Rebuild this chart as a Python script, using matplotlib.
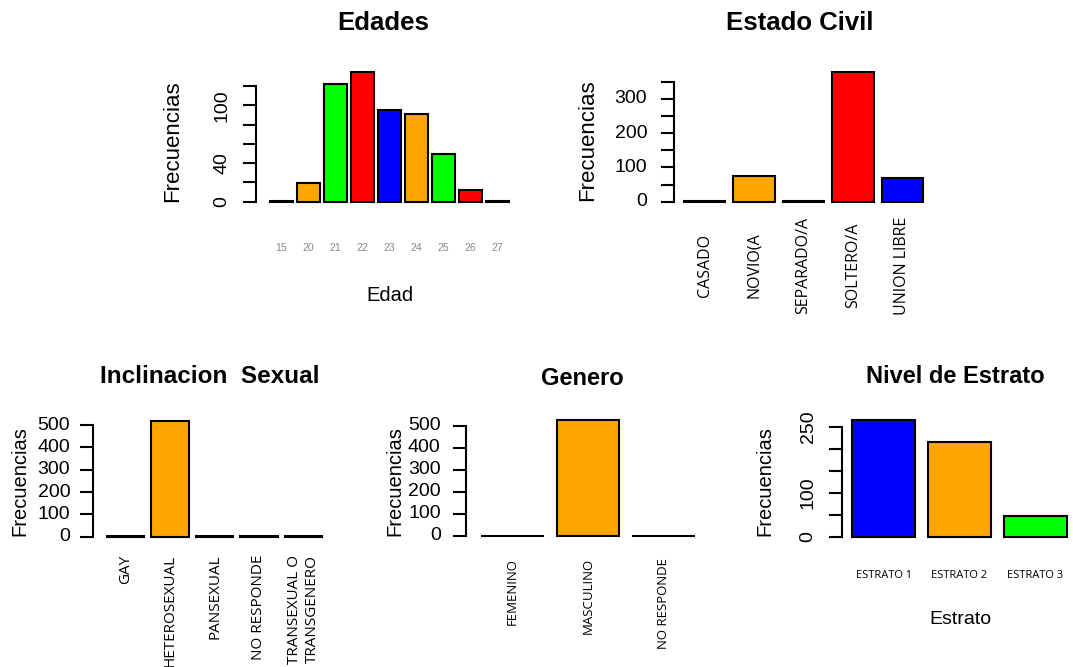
import matplotlib
matplotlib.use('Agg')
import matplotlib.pyplot as plt

# data
edad_cats = ['15', '20', '21', '22', '23', '24', '25', '26', '27']
edad_vals = [1, 19, 122, 135, 95, 91, 50, 12, 1]

civil_cats = ['CASADO', 'NOVIO(A', 'SEPARADO/A', 'SOLTERO/A', 'UNION LIBRE']
civil_vals = [1, 76, 1, 379, 69]

incl_cats = ['GAY', 'HETEROSEXUAL', 'PANSEXUAL', 'NO RESPONDE', 'TRANSEXUAL O\nTRANSGENERO']
incl_vals = [1, 520, 1, 4, 1]

genero_cats = ['FEMENINO', 'MASCULINO', 'NO RESPONDE']
genero_vals = [1, 527, 1]

estrato_cats = ['ESTRATO 1', 'ESTRATO 2', 'ESTRATO 3']
estrato_vals = [265, 216, 47]

palette = ['#0000FF', '#FFA500', '#00FF00', '#FF0000']

W, H = 1073, 667
fig = plt.figure(figsize=(W / 100, H / 100), dpi=100)
plt.rcParams['font.family'] = ['Liberation Sans', 'DejaVu Sans']
cat_font = ['Open Sans', 'DejaVu Sans']


def fig_text(x, y, s, **kw):
	''' text placed at pixel position'''
	fig.text(x / W, 1 - y / H, s, **kw)


def make_panel(vals, left, right, zero_y, ppu, ymax, spine_off, ticks, ticklabels,
		tick_rot, tick_pad):
	''' one R style barplot'''
	ax = fig.add_axes([left / W, 1 - zero_y / H, (right - left) / W, ppu * ymax / H])
	n = len(vals)
	xs = [0.7 + 1.2 * i for i in range(n)]
	cols = [palette[i % 4] for i in range(n)]
	ax.bar(xs, vals, width=1, color=cols, edgecolor='black', linewidth=1.5, clip_on=False)
	ax.set_xlim(0.2, 1.2 * n)
	ax.set_ylim(0, ymax)
	for s in ['top', 'right', 'bottom']:
		ax.spines[s].set_visible(False)
	ax.spines['left'].set_position(('outward', spine_off))
	ax.spines['left'].set_linewidth(1.5)
	ax.spines['left'].set_bounds(0, ticks[-1])
	ax.set_xticks([])
	ax.set_yticks(ticks)
	ax.set_yticklabels(ticklabels, rotation=tick_rot, va='center')
	ax.tick_params(axis='y', length=9.5, width=1.5, pad=tick_pad, labelsize=14)
	ax.patch.set_visible(False)
	return ax, xs


# Edades
ax, xs = make_panel(edad_vals, 270, 509, 201.7, 0.964, 140, 10,
	[0, 20, 40, 60, 80, 100, 120], ['0', '', '40', '', '', '100', ''], 90, 9)
for x, c in zip(xs, edad_cats):
	ax.annotate(c, (x, 0), xytext=(0, -33), textcoords='offset points',
		ha='center', va='center', fontsize=7.5, color='#888888', annotation_clip=False)
fig_text(383, 23, 'Edades', ha='center', va='center', fontsize=18.5, fontweight='bold')
fig_text(173, 141, 'Frecuencias', ha='center', va='center', rotation=90, fontsize=16)
fig_text(390, 295, 'Edad', ha='center', va='center', fontsize=14.5)

# Estado Civil
ax, xs = make_panel(civil_vals, 684, 923, 201.7, 0.343, 400, 7,
	[0, 50, 100, 150, 200, 250, 300, 350], ['0', '', '100', '', '200', '', '300', ''], 0, 10)
for x, c in zip(xs, civil_cats):
	ax.annotate(c, (x, 0), xytext=(0, -46), textcoords='offset points', rotation=90,
		ha='center', va='center', fontsize=11.5, family=cat_font, annotation_clip=False)
fig_text(800, 23, 'Estado Civil', ha='center', va='center', fontsize=18.5, fontweight='bold')
fig_text(588, 140, 'Frecuencias', ha='center', va='center', rotation=90, fontsize=16)

# Inclinacion Sexual
ax, xs = make_panel(incl_vals, 107, 322, 536.7, 0.2233, 560, 10,
	[0, 100, 200, 300, 400, 500], ['0', '100', '200', '300', '400', '500'], 0, 7)
for x, c in zip(xs, incl_cats):
	ax.annotate(c, (x, 0), xytext=(0, -13), textcoords='offset points', rotation=90,
		ha='center', va='top', fontsize=11, family=cat_font, multialignment='center',
		annotation_clip=False)
fig_text(210, 377, 'Inclinacion  Sexual', ha='center', va='center', fontsize=17.5, fontweight='bold')
fig_text(20, 481, 'Frecuencias', ha='center', va='center', rotation=90, fontsize=14.5)

# Genero
ax, xs = make_panel(genero_vals, 481, 695, 536, 0.22, 560, 11,
	[0, 100, 200, 300, 400, 500], ['0', '100', '200', '300', '400', '500'], 0, 8.5)
for x, c in zip(xs, genero_cats):
	ax.annotate(c, (x, 0), xytext=(0, -16), textcoords='offset points', rotation=90,
		ha='center', va='top', fontsize=9.5, family=cat_font, annotation_clip=False)
fig_text(582, 378, 'Genero', ha='center', va='center', fontsize=17, fontweight='bold')
fig_text(395, 481, 'Frecuencias', ha='center', va='center', rotation=90, fontsize=14.5)

# Nivel de Estrato
ax, xs = make_panel(estrato_vals, 852, 1067, 536.7, 0.44, 300, 7,
	[0, 50, 100, 150, 200, 250], ['0', '', '100', '', '', '250'], 90, 9)
for x, c in zip(xs, estrato_cats):
	ax.annotate(c, (x, 0), xytext=(0, -28), textcoords='offset points',
		ha='center', va='center', fontsize=8, family=cat_font, annotation_clip=False)
fig_text(955, 377, 'Nivel de Estrato', ha='center', va='center', fontsize=17, fontweight='bold')
fig_text(765, 481, 'Frecuencias', ha='center', va='center', rotation=90, fontsize=14.5)
fig_text(960, 620, 'Estrato', ha='center', va='center', fontsize=14)

plt.savefig('out.png', dpi=100)
